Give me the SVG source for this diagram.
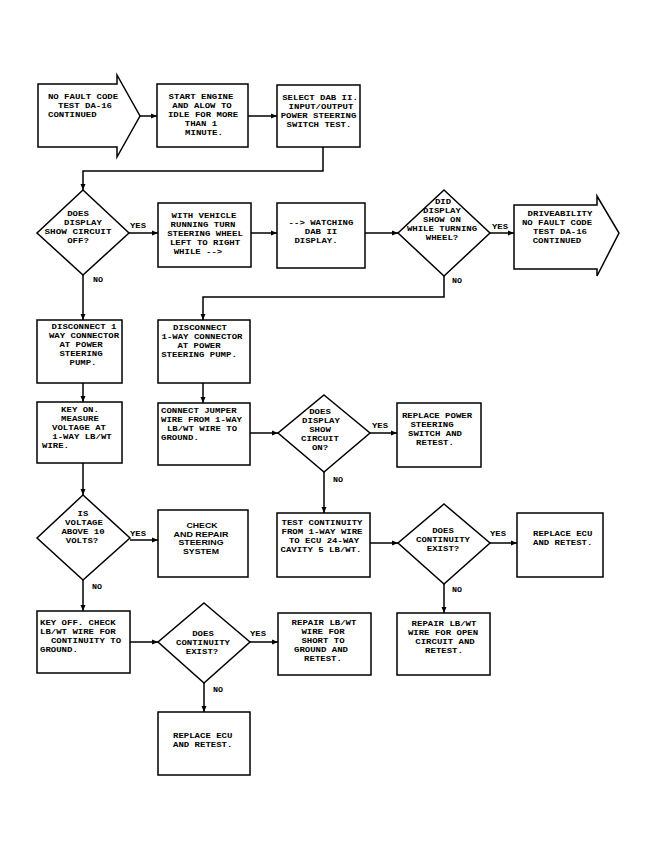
<svg xmlns="http://www.w3.org/2000/svg" width="666" height="854" viewBox="0 0 666 854">
<style>
.s{fill:#fff;stroke:#000;stroke-width:1.5}
.t{font-family:"Liberation Mono",monospace;font-size:8px;font-weight:bold;fill:#000;text-anchor:middle}
.l{text-anchor:start}
.b{font-family:"Liberation Sans",Arial,sans-serif;font-size:7.6px;font-weight:bold;fill:#000;text-anchor:middle}
.c{fill:none;stroke:#000;stroke-width:1.5}
</style>
<defs>
<marker id="ah" markerUnits="userSpaceOnUse" markerWidth="7" markerHeight="6" refX="6" refY="3" orient="auto">
<path d="M0,0.5 L6,3 L0,5.5 Z" fill="#000"/>
</marker>
</defs>
<rect width="666" height="854" fill="#fff"/>
<g id="connectors">
<path class="c" d="M140,116 H157" marker-end="url(#ah)"/>
<path class="c" d="M248,116 H277" marker-end="url(#ah)"/>
<path class="c" d="M323,147 V171 H83 V190" marker-end="url(#ah)"/>
<path class="c" d="M129,233 H158" marker-end="url(#ah)"/>
<path class="c" d="M251,233 H277" marker-end="url(#ah)"/>
<path class="c" d="M365,233 H398" marker-end="url(#ah)"/>
<path class="c" d="M490,233 H514" marker-end="url(#ah)"/>
<path class="c" d="M444,276 V297 H203 V320" marker-end="url(#ah)"/>
<path class="c" d="M83,275 V320" marker-end="url(#ah)"/>
<path class="c" d="M83,383 V402" marker-end="url(#ah)"/>
<path class="c" d="M203,383 V403" marker-end="url(#ah)"/>
<path class="c" d="M250,433 H278" marker-end="url(#ah)"/>
<path class="c" d="M370,433 H397" marker-end="url(#ah)"/>
<path class="c" d="M324,472 V513" marker-end="url(#ah)"/>
<path class="c" d="M83,463 V495" marker-end="url(#ah)"/>
<path class="c" d="M130,540 H158" marker-end="url(#ah)"/>
<path class="c" d="M370,543 H398" marker-end="url(#ah)"/>
<path class="c" d="M490,543 H517" marker-end="url(#ah)"/>
<path class="c" d="M444,584 V613" marker-end="url(#ah)"/>
<path class="c" d="M83,580 V611" marker-end="url(#ah)"/>
<path class="c" d="M130,642 H158" marker-end="url(#ah)"/>
<path class="c" d="M250,642 H278" marker-end="url(#ah)"/>
<path class="c" d="M204,683 V712" marker-end="url(#ah)"/>
<text class="t l" x="130" y="228" textLength="16" lengthAdjust="spacingAndGlyphs">YES</text>
<text class="t l" x="93" y="282" textLength="10" lengthAdjust="spacingAndGlyphs">NO</text>
<text class="t l" x="492" y="229" textLength="16" lengthAdjust="spacingAndGlyphs">YES</text>
<text class="t l" x="452" y="283" textLength="10" lengthAdjust="spacingAndGlyphs">NO</text>
<text class="t l" x="372" y="428" textLength="16" lengthAdjust="spacingAndGlyphs">YES</text>
<text class="t l" x="333" y="482" textLength="10" lengthAdjust="spacingAndGlyphs">NO</text>
<text class="t l" x="130" y="536" textLength="16" lengthAdjust="spacingAndGlyphs">YES</text>
<text class="t l" x="92" y="589" textLength="10" lengthAdjust="spacingAndGlyphs">NO</text>
<text class="t l" x="490" y="536" textLength="16" lengthAdjust="spacingAndGlyphs">YES</text>
<text class="t l" x="452" y="592" textLength="10" lengthAdjust="spacingAndGlyphs">NO</text>
<text class="t l" x="250" y="636" textLength="16" lengthAdjust="spacingAndGlyphs">YES</text>
<text class="t l" x="213" y="692" textLength="10" lengthAdjust="spacingAndGlyphs">NO</text>
</g>
<g id="n1">
<path class="s" d="M38,84 H117 V75 L140,116 L117,157 V147 H38 Z"/>
<text class="t" x="83" y="99" textLength="70.2" lengthAdjust="spacingAndGlyphs">NO FAULT CODE</text>
<text class="t" x="85" y="108" textLength="54" lengthAdjust="spacingAndGlyphs">TEST DA-16</text>
<text class="t l" x="48" y="117" textLength="48.6" lengthAdjust="spacingAndGlyphs">CONTINUED</text>
</g>
<g id="n2">
<rect class="s" x="157" y="84" width="91" height="63"/>
<text class="t" x="201" y="99" textLength="64.8" lengthAdjust="spacingAndGlyphs">START ENGINE</text>
<text class="t" x="202" y="108" textLength="59.4" lengthAdjust="spacingAndGlyphs">AND ALOW TO</text>
<text class="t" x="203" y="117" textLength="70.2" lengthAdjust="spacingAndGlyphs">IDLE FOR MORE</text>
<text class="t" x="201" y="126" textLength="32.4" lengthAdjust="spacingAndGlyphs">THAN 1</text>
<text class="t" x="204" y="135" textLength="37.8" lengthAdjust="spacingAndGlyphs">MINUTE.</text>
</g>
<g id="n3">
<rect class="s" x="277" y="85" width="83" height="62"/>
<text class="t" x="320" y="99.5" textLength="75.6" lengthAdjust="spacingAndGlyphs">SELECT DAB II.</text>
<text class="t" x="321" y="108.5" textLength="64.8" lengthAdjust="spacingAndGlyphs">INPUT/OUTPUT</text>
<text class="t" x="318.5" y="117.5" textLength="75.6" lengthAdjust="spacingAndGlyphs">POWER STEERING</text>
<text class="t" x="319" y="126.5" textLength="64.8" lengthAdjust="spacingAndGlyphs">SWITCH TEST.</text>
</g>
<g id="n4">
<path class="s" d="M83,190 L129,233 L83,275 L37,233 Z"/>
<text class="t" x="78" y="216" textLength="21.6" lengthAdjust="spacingAndGlyphs">DOES</text>
<text class="t" x="83" y="225" textLength="37.8" lengthAdjust="spacingAndGlyphs">DISPLAY</text>
<text class="t" x="78" y="234" textLength="67" lengthAdjust="spacingAndGlyphs">SHOW CIRCUIT</text>
<text class="t" x="78" y="243" textLength="21.6" lengthAdjust="spacingAndGlyphs">OFF?</text>
</g>
<g id="n5">
<rect class="s" x="158" y="203" width="93" height="64"/>
<text class="t" x="204" y="217.6" textLength="64.8" lengthAdjust="spacingAndGlyphs">WITH VEHICLE</text>
<text class="t" x="203" y="226.6" textLength="64.8" lengthAdjust="spacingAndGlyphs">RUNNING TURN</text>
<text class="t" x="205" y="235.6" textLength="75.6" lengthAdjust="spacingAndGlyphs">STEERING WHEEL</text>
<text class="t" x="205" y="244.6" textLength="70.2" lengthAdjust="spacingAndGlyphs">LEFT TO RIGHT</text>
<text class="t" x="198" y="253.6" textLength="48.6" lengthAdjust="spacingAndGlyphs">WHILE --&gt;</text>
</g>
<g id="n6">
<rect class="s" x="277" y="203" width="88" height="65"/>
<text class="t" x="321" y="225.3" textLength="64.8" lengthAdjust="spacingAndGlyphs">--&gt; WATCHING</text>
<text class="t" x="321" y="234.3" textLength="32.4" lengthAdjust="spacingAndGlyphs">DAB II</text>
<text class="t" x="316" y="243.3" textLength="43.2" lengthAdjust="spacingAndGlyphs">DISPLAY.</text>
</g>
<g id="n7">
<path class="s" d="M444,190 L490,233 L444,276 L398,233 Z"/>
<text class="t" x="443" y="203.5" textLength="16.2" lengthAdjust="spacingAndGlyphs">DID</text>
<text class="t" x="442" y="212.5" textLength="37.8" lengthAdjust="spacingAndGlyphs">DISPLAY</text>
<text class="t" x="442" y="221.5" textLength="37.8" lengthAdjust="spacingAndGlyphs">SHOW ON</text>
<text class="t" x="442" y="230.5" textLength="70.2" lengthAdjust="spacingAndGlyphs">WHILE TURNING</text>
<text class="t" x="442" y="239.5" textLength="32.4" lengthAdjust="spacingAndGlyphs">WHEEL?</text>
</g>
<g id="n8">
<path class="s" d="M514,205 H597 V196 L619,233 L597,276 V269 H514 Z"/>
<text class="t" x="560" y="216" textLength="64.8" lengthAdjust="spacingAndGlyphs">DRIVEABILITY</text>
<text class="t" x="557" y="225" textLength="70.2" lengthAdjust="spacingAndGlyphs">NO FAULT CODE</text>
<text class="t" x="560" y="234" textLength="54" lengthAdjust="spacingAndGlyphs">TEST DA-16</text>
<text class="t" x="557" y="243" textLength="48.6" lengthAdjust="spacingAndGlyphs">CONTINUED</text>
</g>
<g id="n9">
<rect class="s" x="37" y="320" width="85" height="63"/>
<text class="t" x="84" y="329.4" textLength="64.8" lengthAdjust="spacingAndGlyphs">DISCONNECT 1</text>
<text class="t" x="84" y="338.4" textLength="70.2" lengthAdjust="spacingAndGlyphs">WAY CONNECTOR</text>
<text class="t" x="81" y="347.4" textLength="43.2" lengthAdjust="spacingAndGlyphs">AT POWER</text>
<text class="t" x="81" y="356.4" textLength="43.2" lengthAdjust="spacingAndGlyphs">STEERING</text>
<text class="t" x="83" y="365.4" textLength="27" lengthAdjust="spacingAndGlyphs">PUMP.</text>
</g>
<g id="n10">
<rect class="s" x="158" y="320" width="92" height="63"/>
<text class="t" x="200" y="330" textLength="54" lengthAdjust="spacingAndGlyphs">DISCONNECT</text>
<text class="t" x="202" y="339" textLength="81" lengthAdjust="spacingAndGlyphs">1-WAY CONNECTOR</text>
<text class="t" x="199" y="348" textLength="43.2" lengthAdjust="spacingAndGlyphs">AT POWER</text>
<text class="t" x="199" y="357" textLength="75.6" lengthAdjust="spacingAndGlyphs">STEERING PUMP.</text>
</g>
<g id="n11">
<rect class="s" x="37" y="402" width="85" height="61"/>
<text class="t" x="80" y="412.4" textLength="37.8" lengthAdjust="spacingAndGlyphs">KEY ON.</text>
<text class="t" x="80" y="421.4" textLength="37.8" lengthAdjust="spacingAndGlyphs">MEASURE</text>
<text class="t" x="79" y="430.4" textLength="54" lengthAdjust="spacingAndGlyphs">VOLTAGE AT</text>
<text class="t" x="82" y="439.4" textLength="59.4" lengthAdjust="spacingAndGlyphs">1-WAY LB/WT</text>
<text class="t l" x="42" y="448.4" textLength="27" lengthAdjust="spacingAndGlyphs">WIRE.</text>
</g>
<g id="n12">
<rect class="s" x="158" y="403" width="92" height="62"/>
<text class="t l" x="161" y="413" textLength="75.6" lengthAdjust="spacingAndGlyphs">CONNECT JUMPER</text>
<text class="t l" x="161" y="422" textLength="81" lengthAdjust="spacingAndGlyphs">WIRE FROM 1-WAY</text>
<text class="t" x="202" y="431" textLength="70.2" lengthAdjust="spacingAndGlyphs">LB/WT WIRE TO</text>
<text class="t l" x="161" y="440" textLength="37.8" lengthAdjust="spacingAndGlyphs">GROUND.</text>
</g>
<g id="n13">
<path class="s" d="M324,395 L370,433 L324,472 L278,433 Z"/>
<text class="t" x="320" y="413.8" textLength="21.6" lengthAdjust="spacingAndGlyphs">DOES</text>
<text class="t" x="321" y="422.8" textLength="37.8" lengthAdjust="spacingAndGlyphs">DISPLAY</text>
<text class="t" x="320" y="431.8" textLength="21.6" lengthAdjust="spacingAndGlyphs">SHOW</text>
<text class="t" x="320" y="440.8" textLength="37.8" lengthAdjust="spacingAndGlyphs">CIRCUIT</text>
<text class="t" x="320" y="449.8" textLength="16.2" lengthAdjust="spacingAndGlyphs">ON?</text>
</g>
<g id="n14">
<rect class="s" x="397" y="403" width="84" height="64"/>
<text class="t" x="437" y="417.5" textLength="70.2" lengthAdjust="spacingAndGlyphs">REPLACE POWER</text>
<text class="t" x="432" y="426.5" textLength="43.2" lengthAdjust="spacingAndGlyphs">STEERING</text>
<text class="t" x="435" y="435.5" textLength="54" lengthAdjust="spacingAndGlyphs">SWITCH AND</text>
<text class="t" x="435" y="444.5" textLength="37.8" lengthAdjust="spacingAndGlyphs">RETEST.</text>
</g>
<g id="n15">
<path class="s" d="M83,495 L130,538 L83,580 L37,538 Z"/>
<text class="t" x="83" y="515.5" textLength="10.8" lengthAdjust="spacingAndGlyphs">IS</text>
<text class="t" x="84" y="524.5" textLength="37.8" lengthAdjust="spacingAndGlyphs">VOLTAGE</text>
<text class="t" x="83" y="533.5" textLength="43.2" lengthAdjust="spacingAndGlyphs">ABOVE 10</text>
<text class="t" x="82" y="542.5" textLength="32.4" lengthAdjust="spacingAndGlyphs">VOLTS?</text>
</g>
<g id="n16">
<rect class="s" x="158" y="510" width="90" height="67"/>
<text class="b" x="202" y="528" textLength="31" lengthAdjust="spacingAndGlyphs">CHECK</text>
<text class="b" x="201" y="536.6" textLength="55" lengthAdjust="spacingAndGlyphs">AND REPAIR</text>
<text class="b" x="201" y="545.2" textLength="45" lengthAdjust="spacingAndGlyphs">STEERING</text>
<text class="b" x="201" y="553.8" textLength="36" lengthAdjust="spacingAndGlyphs">SYSTEM</text>
</g>
<g id="n17">
<rect class="s" x="277" y="513" width="93" height="64"/>
<text class="t" x="322" y="524.5" textLength="81" lengthAdjust="spacingAndGlyphs">TEST CONTINUITY</text>
<text class="t" x="322" y="533.5" textLength="81" lengthAdjust="spacingAndGlyphs">FROM 1-WAY WIRE</text>
<text class="t" x="324" y="542.5" textLength="70.2" lengthAdjust="spacingAndGlyphs">TO ECU 24-WAY</text>
<text class="t" x="321" y="551.5" textLength="81" lengthAdjust="spacingAndGlyphs">CAVITY 5 LB/WT.</text>
</g>
<g id="n18">
<path class="s" d="M444,504 L490,543 L444,584 L398,543 Z"/>
<text class="t" x="443" y="532.7" textLength="21.6" lengthAdjust="spacingAndGlyphs">DOES</text>
<text class="t" x="443" y="541.7" textLength="54" lengthAdjust="spacingAndGlyphs">CONTINUITY</text>
<text class="t" x="443" y="550.7" textLength="32.4" lengthAdjust="spacingAndGlyphs">EXIST?</text>
</g>
<g id="n19">
<rect class="s" x="517" y="513" width="86" height="64"/>
<text class="t l" x="533" y="536" textLength="59.4" lengthAdjust="spacingAndGlyphs">REPLACE ECU</text>
<text class="t l" x="533" y="545" textLength="59.4" lengthAdjust="spacingAndGlyphs">AND RETEST.</text>
</g>
<g id="n20">
<rect class="s" x="37" y="611" width="93" height="62"/>
<text class="t l" x="40" y="625.3" textLength="75.6" lengthAdjust="spacingAndGlyphs">KEY OFF. CHECK</text>
<text class="t l" x="40" y="634.3" textLength="75.6" lengthAdjust="spacingAndGlyphs">LB/WT WIRE FOR</text>
<text class="t" x="86" y="643.3" textLength="70.2" lengthAdjust="spacingAndGlyphs">CONTINUITY TO</text>
<text class="t l" x="40" y="652.3" textLength="37.8" lengthAdjust="spacingAndGlyphs">GROUND.</text>
</g>
<g id="n21">
<path class="s" d="M204,603 L250,642 L204,683 L158,642 Z"/>
<text class="t" x="203" y="636" textLength="21.6" lengthAdjust="spacingAndGlyphs">DOES</text>
<text class="t" x="203" y="645" textLength="54" lengthAdjust="spacingAndGlyphs">CONTINUITY</text>
<text class="t" x="202" y="654" textLength="32.4" lengthAdjust="spacingAndGlyphs">EXIST?</text>
</g>
<g id="n22">
<rect class="s" x="278" y="613" width="93" height="62"/>
<text class="t" x="324" y="624.6" textLength="64.8" lengthAdjust="spacingAndGlyphs">REPAIR LB/WT</text>
<text class="t" x="323" y="633.6" textLength="43.2" lengthAdjust="spacingAndGlyphs">WIRE FOR</text>
<text class="t" x="323" y="642.6" textLength="43.2" lengthAdjust="spacingAndGlyphs">SHORT TO</text>
<text class="t" x="321" y="651.6" textLength="54" lengthAdjust="spacingAndGlyphs">GROUND AND</text>
<text class="t" x="323" y="660.6" textLength="37.8" lengthAdjust="spacingAndGlyphs">RETEST.</text>
</g>
<g id="n23">
<rect class="s" x="397" y="613" width="93" height="62"/>
<text class="t" x="444" y="625.5" textLength="64.8" lengthAdjust="spacingAndGlyphs">REPAIR LB/WT</text>
<text class="t" x="443" y="634.5" textLength="70.2" lengthAdjust="spacingAndGlyphs">WIRE FOR OPEN</text>
<text class="t" x="445" y="643.5" textLength="59.4" lengthAdjust="spacingAndGlyphs">CIRCUIT AND</text>
<text class="t" x="444" y="652.5" textLength="37.8" lengthAdjust="spacingAndGlyphs">RETEST.</text>
</g>
<g id="n24">
<rect class="s" x="158" y="712" width="92" height="63"/>
<text class="t l" x="173" y="737.5" textLength="59.4" lengthAdjust="spacingAndGlyphs">REPLACE ECU</text>
<text class="t l" x="173" y="746.5" textLength="59.4" lengthAdjust="spacingAndGlyphs">AND RETEST.</text>
</g>
</svg>
